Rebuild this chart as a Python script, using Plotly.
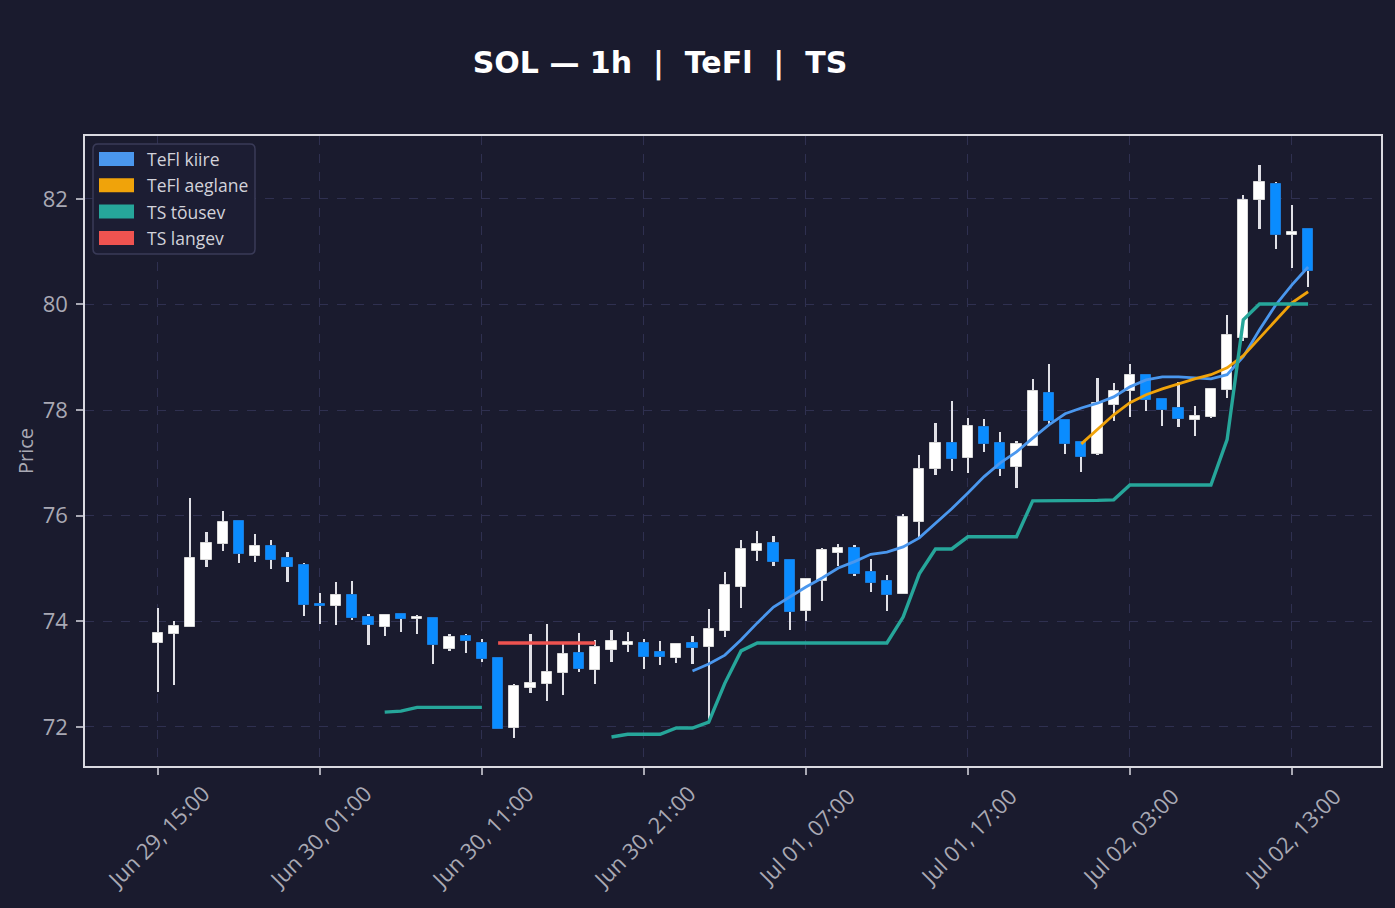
import plotly.graph_objects as go
import pandas as pd

# ---------------- data ----------------
start_time = "2025-06-29 15:00"
n_candles = 72

opens = [73.59, 73.76, 73.89, 75.16, 75.47, 75.90, 75.24, 75.43, 75.20, 75.07,
         74.33, 74.29, 74.50, 74.08, 73.89, 74.14, 74.04, 74.06, 73.48, 73.72,
         73.59, 73.31, 71.98, 72.74, 72.81, 73.02, 73.40, 73.08, 73.46, 73.55,
         73.59, 73.42, 73.31, 73.59, 73.52, 73.82, 74.65, 75.33, 75.48, 75.16,
         74.20, 74.77, 75.30, 75.39, 74.94, 74.77, 74.52, 75.88, 76.89, 77.38,
         77.09, 77.68, 77.38, 76.92, 77.32, 78.33, 77.81, 77.40, 77.17, 78.10,
         78.36, 78.67, 78.21, 78.04, 77.81, 77.87, 78.38, 79.37, 81.98, 82.28,
         81.32, 81.43]
highs = [74.25, 74.01, 76.34, 75.69, 76.09, 75.90, 75.66, 75.54, 75.31, 75.11,
         74.54, 74.75, 74.77, 74.14, 74.12, 74.16, 74.12, 74.08, 73.76, 73.76,
         73.67, 73.31, 72.81, 73.76, 73.95, 73.59, 73.78, 73.65, 73.84, 73.80,
         73.67, 73.63, 73.57, 73.72, 74.23, 74.94, 75.54, 75.71, 75.62, 75.16,
         74.82, 75.39, 75.47, 75.45, 75.18, 74.88, 76.03, 77.15, 77.76, 78.17,
         77.85, 77.83, 77.59, 77.42, 78.59, 78.88, 77.81, 77.40, 78.61, 78.52,
         78.88, 78.67, 78.21, 78.53, 78.08, 78.40, 79.80, 82.08, 82.64, 82.32,
         81.89, 81.43]
lows = [72.66, 72.80, 73.89, 75.03, 75.33, 75.11, 75.13, 74.99, 74.75, 74.10,
        73.95, 73.93, 74.03, 73.55, 73.72, 73.80, 73.76, 73.19, 73.44, 73.40,
        73.23, 71.96, 71.79, 72.64, 72.49, 72.61, 73.04, 72.81, 73.23, 73.42,
        73.10, 73.17, 73.21, 73.19, 72.15, 73.70, 74.25, 75.14, 75.05, 73.84,
        74.01, 74.39, 75.05, 74.85, 74.56, 74.20, 74.52, 75.60, 76.77, 76.85,
        76.81, 77.21, 76.75, 76.53, 77.32, 77.74, 77.17, 76.83, 77.15, 77.80,
        77.87, 77.98, 77.70, 77.68, 77.51, 77.85, 78.23, 79.31, 81.43, 81.05,
        80.69, 80.33]
closes = [73.78, 73.91, 75.20, 75.48, 75.88, 75.28, 75.43, 75.16, 75.03, 74.31,
          74.29, 74.50, 74.06, 73.93, 74.12, 74.05, 74.06, 73.55, 73.70, 73.63,
          73.29, 71.96, 72.78, 72.83, 73.04, 73.38, 73.10, 73.52, 73.63, 73.61,
          73.33, 73.33, 73.57, 73.50, 73.86, 74.69, 75.37, 75.47, 75.13, 74.18,
          74.80, 75.35, 75.39, 74.89, 74.73, 74.50, 75.98, 76.89, 77.38, 77.08,
          77.70, 77.36, 76.89, 77.36, 78.36, 77.80, 77.36, 77.11, 78.13, 78.36,
          78.67, 78.19, 78.00, 77.83, 77.89, 78.40, 79.42, 81.98, 82.32, 81.32,
          81.38, 80.64]

N = None
tefl_kiire = [N] * 33 + [73.06, 73.19, 73.36, 73.65, 73.97, 74.27, 74.46, 74.65,
                         74.82, 75.01, 75.13, 75.27, 75.31, 75.41, 75.58, 75.86,
                         76.13, 76.43, 76.74, 77.00, 77.21, 77.47, 77.72, 77.93,
                         78.04, 78.13, 78.25, 78.44, 78.57, 78.63, 78.63, 78.61,
                         78.59, 78.67, 79.01, 79.52, 79.99, 80.37, 80.71]
tefl_aeglane = [N] * 57 + [77.36, 77.63, 77.91, 78.14, 78.29, 78.40, 78.50, 78.59,
                           78.67, 78.80, 79.03, 79.37, 79.71, 80.03, 80.24]
ts_tousev = ([N] * 14 + [72.28, 72.30, 72.37, 72.37, 72.37, 72.37, 72.37] + [N] * 7 +
             [71.81, 71.86, 71.86, 71.86, 71.98, 71.98, 72.09, 72.83, 73.44, 73.59,
              73.59, 73.59, 73.59, 73.59, 73.59, 73.59, 73.59, 73.59, 74.08, 74.90,
              75.37, 75.37, 75.60, 75.60, 75.60, 75.60, 76.28, 76.28, 76.28, 76.28,
              76.29, 76.30, 76.58, 76.58, 76.58, 76.58, 76.58, 76.58, 77.44, 79.71,
              80.01, 80.01, 80.01, 80.01])
ts_langev = [N] * 21 + [73.59] * 7 + [N] * 44

x_tick_labels = ["Jun 29, 15:00", "Jun 30, 01:00", "Jun 30, 11:00", "Jun 30, 21:00",
                 "Jul 01, 07:00", "Jul 01, 17:00", "Jul 02, 03:00", "Jul 02, 13:00"]
y_tick_values = [72, 74, 76, 78, 80, 82]
legend_labels = ["TeFl kiire", "TeFl aeglane", "TS tõusev", "TS langev"]

# ---------------- styling ----------------
BG = "#1a1b2e"
UP = "#ffffff"
DOWN = "#0a8cff"
WICK = "#e0e0e6"
C_KIIRE = "#4a97ee"
C_AEG = "#f0a30a"
C_TOUS = "#26a69a"
C_LANG = "#ef5350"
TXT = "#a9a9b4"
GRID = "#2f3050"
FONT = "Open Sans"
TFONT = "DejaVu Sans"

times = pd.date_range(start_time, periods=n_candles, freq="h")
hour_ms = 3600 * 1000

body_base = [min(o, c) for o, c in zip(opens, closes)]
body_h = [max(abs(c - o), 0.04) for o, c in zip(opens, closes)]
body_col = [UP if c >= o else DOWN for o, c in zip(opens, closes)]
body_edge = ["#d8d8d8" if c >= o else "#1a7ad8" for o, c in zip(opens, closes)]
wick_base = lows
wick_h = [h - l for h, l in zip(highs, lows)]

fig = go.Figure()
fig.add_trace(go.Bar(x=times, y=wick_h, base=wick_base, width=0.14 * hour_ms,
                     marker=dict(color=WICK, line=dict(width=0)),
                     showlegend=False, hoverinfo="skip"))
fig.add_trace(go.Bar(x=times, y=body_h, base=body_base, width=0.64 * hour_ms,
                     marker=dict(color=body_col, line=dict(color=body_edge, width=1)),
                     showlegend=False, name="SOL"))

line_series = [(tefl_kiire, C_KIIRE, 2.8), (tefl_aeglane, C_AEG, 2.8),
               (ts_tousev, C_TOUS, 3.4), (ts_langev, C_LANG, 3.4)]
for (vals, col, w), name in zip(line_series, legend_labels):
    fig.add_trace(go.Scatter(x=times, y=vals, mode="lines", name=name,
                             line=dict(color=col, width=w), connectgaps=False,
                             showlegend=False))

# ---------------- layout ----------------
L, R, T, B = 85, 1381, 136, 766
W, H = 1395, 908
x0 = pd.Timestamp(start_time) - pd.Timedelta(minutes=270)
x1 = pd.Timestamp(start_time) + pd.Timedelta(minutes=75.5 * 60)
tick_vals = [pd.Timestamp(start_time) + pd.Timedelta(hours=10 * i) for i in range(len(x_tick_labels))]

fig.update_layout(
    width=W, height=H,
    paper_bgcolor=BG, plot_bgcolor=BG,
    margin=dict(l=L, r=W - R, t=T, b=H - B),
    barmode="overlay",
    bargap=0,
    font=dict(family=FONT, color=TXT),
    title=dict(text="<b>SOL — 1h  |  TeFl  |  TS</b>", x=660 / W, xref="container",
               xanchor="center", y=1 - 62 / H, yref="container", yanchor="middle",
               font=dict(family=TFONT, size=30, color="#ffffff")),
    showlegend=False,
)
fig.update_xaxes(range=[x0, x1], tickvals=tick_vals, showticklabels=False,
                 ticks="outside", ticklen=7, tickcolor=TXT, tickwidth=1.5,
                 showgrid=True, gridcolor=GRID, griddash="dash", gridwidth=1,
                 showline=True, linecolor="#d9d9e0", linewidth=1.6, mirror=True,
                 zeroline=False, rangeslider=dict(visible=False))
fig.update_yaxes(range=[71.26, 83.19], tickvals=y_tick_values,
                 tickfont=dict(family=FONT, size=22, color=TXT), ticklabelstandoff=4,
                 ticks="outside", ticklen=7, tickcolor=TXT, tickwidth=1.5,
                 showgrid=True, gridcolor=GRID, griddash="dash", gridwidth=1,
                 showline=True, linecolor="#d9d9e0", linewidth=1.6, mirror=True,
                 zeroline=False,
                 title=dict(text="Price", font=dict(family=FONT, size=20, color=TXT), standoff=4))

# rotated x tick labels centred under each tick
for tv, lab in zip(tick_vals, x_tick_labels):
    fig.add_annotation(x=tv, y=(B - 836) / (B - T), xref="x", yref="paper",
                       text=lab, textangle=-45, showarrow=False,
                       xanchor="center", yanchor="middle",
                       font=dict(family=FONT, size=22, color=TXT))

# ---------------- manual legend ----------------
def px(xp):
    return (xp - L) / (R - L)


def py(yp):
    return (B - yp) / (B - T)


bx0, by0, bx1, by1, rad = 93, 144, 255, 254, 5
path = (f"M {px(bx0 + rad)},{py(by0)} L {px(bx1 - rad)},{py(by0)} "
        f"Q {px(bx1)},{py(by0)} {px(bx1)},{py(by0 + rad)} "
        f"L {px(bx1)},{py(by1 - rad)} Q {px(bx1)},{py(by1)} {px(bx1 - rad)},{py(by1)} "
        f"L {px(bx0 + rad)},{py(by1)} Q {px(bx0)},{py(by1)} {px(bx0)},{py(by1 - rad)} "
        f"L {px(bx0)},{py(by0 + rad)} Q {px(bx0)},{py(by0)} {px(bx0 + rad)},{py(by0)} Z")
fig.add_shape(type="path", path=path, xref="paper", yref="paper",
              fillcolor="#1c1d33", line=dict(color="#3a3b58", width=1.5), layer="above")
legend_colors = [C_KIIRE, C_AEG, C_TOUS, C_LANG]
for i, (lab, col) in enumerate(zip(legend_labels, legend_colors)):
    yc = 159 + i * 26.3
    fig.add_shape(type="rect", xref="paper", yref="paper",
                  x0=px(99), x1=px(134), y0=py(yc - 7), y1=py(yc + 7),
                  fillcolor=col, line=dict(width=0), layer="above")
    fig.add_annotation(x=px(145), y=py(yc), xref="paper", yref="paper",
                       text=lab, showarrow=False, xanchor="left", yanchor="middle",
                       font=dict(family=FONT, size=17.5, color="#d2d2da"))

fig.write_html("out.html")
